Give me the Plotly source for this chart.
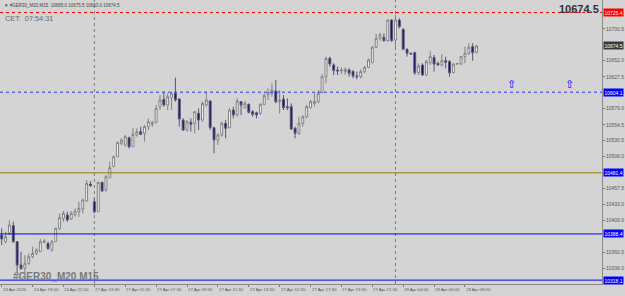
import plotly.graph_objects as go

# ---- data (GER30 M15 candles) ----
opens = [10386.7,10376.6,10389.2,10400.9,10376.6,10341.1,10336.0,10343.6,10353.7,10358.8,
         10361.4,10375.6,10374.0,10363.9,10376.6,10396.9,10412.1,10417.2,10411.1,10417.2,
         10422.2,10426.3,10438.5,10464.3,10437.4,10422.2,10466.9,10455.2,10474.0,10490.7,
         10505.9,10526.2,10523.7,10534.8,10521.1,10538.9,10544.0,10541.4,10551.6,10555.1,
         10558.2,10582.1,10593.2,10584.6,10595.8,10602.4,10593.7,10561.8,10546.6,10558.2,
         10556.7,10571.9,10561.8,10584.6,10590.7,10550.1,10531.3,10539.0,10556.7,10550.1,
         10577.0,10569.4,10589.7,10580.5,10585.6,10574.5,10572.9,10571.9,10585.6,10599.8,
         10602.4,10605.9,10589.7,10593.7,10582.1,10582.1,10549.1,10541.5,10556.7,10566.8,
         10580.5,10587.1,10589.7,10603.4,10627.7,10655.6,10645.5,10637.9,10636.4,10635.4,
         10637.9,10635.4,10628.8,10627.7,10635.4,10641.9,10649.0,10672.4,10686.1,10687.6,
         10682.5,10714.0,10683.5,10714.0,10699.8,10669.3,10663.3,10664.3,10633.8,10645.5,
         10630.3,10649.0,10656.7,10648.0,10645.5,10652.1,10650.6,10633.8,10647.0,10647.0,
         10658.2,10663.3,10673.4,10665.0]
highs = [10396.9,10391.8,10409.5,10407.0,10377.0,10361.4,10356.3,10358.8,10369.0,10366.4,
         10380.6,10380.6,10376.6,10379.1,10397.9,10419.7,10423.2,10422.2,10423.2,10427.3,
         10437.4,10442.5,10470.4,10468.9,10442.5,10467.9,10467.9,10478.0,10498.3,10507.5,
         10528.8,10533.8,10538.9,10536.4,10550.1,10549.0,10551.6,10554.1,10564.3,10560.2,
         10584.6,10599.8,10604.9,10602.4,10604.9,10626.2,10594.7,10564.3,10561.8,10564.3,
         10575.5,10579.5,10589.7,10604.9,10592.2,10551.6,10541.5,10559.2,10561.8,10579.5,
         10582.1,10594.7,10590.7,10590.7,10587.1,10577.0,10574.5,10587.1,10602.4,10610.0,
         10617.6,10622.7,10607.4,10599.8,10594.7,10587.1,10551.6,10566.8,10569.4,10584.6,
         10592.2,10602.4,10607.4,10631.8,10658.2,10658.2,10648.0,10642.9,10641.9,10641.9,
         10640.4,10637.9,10635.4,10638.9,10644.0,10655.6,10674.4,10692.7,10694.7,10693.7,
         10715.0,10715.0,10721.6,10716.5,10701.3,10670.9,10664.3,10665.8,10648.0,10648.0,
         10653.1,10667.3,10660.7,10650.6,10662.2,10658.2,10653.1,10648.0,10648.0,10659.2,
         10673.4,10678.5,10678.5,10675.5]
lows = [10371.5,10374.0,10386.7,10375.0,10328.4,10333.5,10323.3,10341.1,10351.2,10356.3,
        10361.4,10374.0,10363.9,10361.4,10376.6,10394.3,10407.0,10407.0,10409.5,10414.6,
        10414.6,10419.7,10437.4,10460.3,10419.7,10422.2,10452.7,10452.7,10473.0,10490.7,
        10505.9,10523.7,10521.1,10518.6,10521.1,10536.4,10538.9,10528.8,10546.5,10551.6,
        10556.7,10577.0,10582.1,10577.0,10577.0,10589.7,10551.6,10545.0,10544.0,10544.0,
        10541.5,10546.6,10559.2,10582.1,10546.6,10511.1,10523.7,10536.4,10533.9,10549.1,
        10564.3,10566.8,10569.4,10579.5,10571.9,10566.8,10564.3,10569.4,10584.6,10592.2,
        10597.3,10587.1,10571.9,10577.0,10577.0,10546.6,10533.9,10539.0,10551.6,10564.3,
        10579.5,10582.1,10587.1,10602.4,10617.6,10642.9,10630.3,10630.3,10631.8,10630.3,
        10627.7,10625.2,10623.7,10625.2,10632.8,10640.4,10648.0,10670.9,10682.5,10681.0,
        10681.0,10681.0,10670.9,10701.3,10668.3,10658.2,10660.7,10630.3,10630.3,10628.8,
        10628.8,10645.5,10635.4,10644.0,10642.9,10640.4,10627.7,10632.8,10646.0,10645.5,
        10648.0,10660.7,10652.0,10663.0]
closes = [10380.6,10384.2,10401.9,10376.6,10341.1,10336.0,10343.6,10353.7,10358.8,10363.9,
          10376.6,10377.6,10366.4,10376.6,10396.9,10413.1,10419.7,10409.5,10419.7,10423.2,
          10427.3,10440.0,10465.3,10461.8,10422.2,10466.9,10453.7,10475.5,10489.2,10505.9,
          10527.7,10531.3,10536.4,10521.1,10539.9,10544.0,10539.9,10551.6,10559.2,10558.2,
          10579.5,10592.2,10584.6,10597.3,10602.4,10592.2,10563.3,10546.6,10559.2,10555.2,
          10574.5,10561.8,10587.1,10592.2,10550.1,10531.3,10539.0,10556.7,10549.1,10577.0,
          10569.4,10590.7,10584.6,10587.1,10573.4,10570.4,10569.4,10585.6,10598.8,10603.9,
          10607.4,10589.7,10592.2,10580.5,10580.5,10548.1,10541.5,10556.7,10566.8,10582.1,
          10589.7,10589.7,10602.4,10627.7,10655.6,10647.0,10637.0,10636.4,10637.9,10638.9,
          10632.8,10628.8,10627.7,10635.4,10641.9,10653.1,10672.4,10686.1,10691.2,10682.5,
          10714.0,10682.5,10714.0,10703.8,10669.3,10663.3,10662.2,10633.8,10644.0,10630.3,
          10650.6,10658.2,10647.0,10645.5,10652.1,10649.6,10633.8,10647.0,10647.5,10658.2,
          10663.3,10672.4,10664.3,10674.5]
bars = list(range(len(opens)))

time_label_bars = [0, 8, 16, 24, 32, 40, 48, 56, 64, 72, 80, 88, 96, 104, 112, 120]
time_labels = ["24 Apr 2020", "24 Apr 19:00", "24 Apr 21:00", "27 Apr 03:30", "27 Apr 05:30",
               "27 Apr 07:30", "27 Apr 09:30", "27 Apr 11:30", "27 Apr 13:30", "27 Apr 15:30",
               "27 Apr 17:30", "27 Apr 19:30", "27 Apr 21:30", "28 Apr 04:00", "28 Apr 06:00",
               "28 Apr 08:00"]
price_ticks = [10700.5, 10652.0, 10627.5, 10579.0, 10554.5, 10530.5, 10506.0,
               10457.5, 10433.0, 10409.0, 10360.5, 10336.0, 10311.5]
separator_bars = [24, 102]
hlines = [(10725.4, "#ff0000", "dot"), (10604.1, "#3030ff", "dot"),
          (10481.4, "#8a8200", "solid"), (10388.4, "#0000ff", "solid"),
          (10318.1, "#0000ff", "solid")]
price_boxes = [(10725.4, "#ff0000"), (10674.5, "#3a3a3a"), (10604.1, "#0000ff"),
               (10481.4, "#0000ff"), (10388.4, "#0000ff"), (10318.1, "#0000ff")]
arrow_bars = [132, 147]
arrow_price = 10602.5
last_price = 10674.5

BG = "#d4d4d4"

fig = go.Figure()
fig.add_trace(go.Candlestick(
    x=bars, open=opens, high=highs, low=lows, close=closes,
    increasing=dict(line=dict(color="#808080", width=1), fillcolor="#ffffff"),
    decreasing=dict(line=dict(color="#55557a", width=1), fillcolor="#0c0c5c"),
    whiskerwidth=0, hoverinfo="skip", showlegend=False,
))

shapes = []
for b in separator_bars:
    shapes.append(dict(type="line", xref="x", yref="paper", x0=b, x1=b, y0=0, y1=1,
                       line=dict(color="#7a7a7a", width=1, dash="dot"), layer="below"))
for p, c, d in hlines:
    shapes.append(dict(type="line", xref="paper", yref="y", x0=0, x1=1, y0=p, y1=p,
                       line=dict(color=c, width=1, dash=d)))

ann = []
for b, t in zip(time_label_bars, time_labels):
    ann.append(dict(x=b, y=0, xref="x", yref="paper", text=t, showarrow=False,
                    xanchor="left", yanchor="top", xshift=-1, yshift=-1,
                    font=dict(size=4.3, color="#555555", family="Arial")))
for p, c in price_boxes:
    ann.append(dict(x=1, y=p, xref="paper", yref="y", text=f"{p:.1f}", showarrow=False,
                    xanchor="left", yanchor="middle", xshift=1,
                    bgcolor=c, borderpad=0.5,
                    font=dict(size=5, color="#ffffff", family="Arial")))
for b in arrow_bars:
    ann.append(dict(x=b, y=arrow_price, xref="x", yref="y", text="⇧", showarrow=False,
                    xanchor="center", yanchor="bottom",
                    font=dict(size=11, color="#0000ff", family="DejaVu Sans")))
ann.append(dict(x=0, y=1, xref="paper", yref="paper",
                text="▼ #GER30_M20,M15  10665.0 10675.5 10663.0 10674.5", showarrow=False,
                xanchor="left", yanchor="top", xshift=2, yshift=-1,
                font=dict(size=4.5, color="#444444", family="Arial")))
ann.append(dict(x=0, y=1, xref="paper", yref="paper", text="CET:  07:54:31", showarrow=False,
                xanchor="left", yanchor="top", xshift=3, yshift=-12,
                font=dict(size=7.3, color="#6a6a6a", family="Arial")))
ann.append(dict(x=1, y=1, xref="paper", yref="paper", text=f"<b>{last_price:.1f}</b>",
                showarrow=False, xanchor="right", yanchor="top", xshift=-1, yshift=-1,
                font=dict(size=11, color="#333333", family="Arial")))
ann.append(dict(x=0, y=0, xref="paper", yref="paper", text="<b>#GER30_M20 M15</b>",
                showarrow=False, xanchor="left", yanchor="bottom", xshift=11, yshift=0,
                font=dict(size=10, color="#7a7a7a", family="Arial")))

fig.update_layout(
    width=625, height=296, margin=dict(l=0, r=23, t=0, b=12),
    paper_bgcolor=BG, plot_bgcolor=BG,
    shapes=shapes, annotations=ann, showlegend=False,
    xaxis=dict(range=[-0.44, 155.5], showgrid=False, zeroline=False,
               rangeslider=dict(visible=False), showline=True, linecolor="#8a8a8a",
               linewidth=1, mirror=False, tickvals=time_label_bars, ticks="outside",
               ticklen=2, tickcolor="#777777", showticklabels=False, fixedrange=True),
    yaxis=dict(range=[10312.2, 10744.4], side="right", showgrid=False, zeroline=False,
               showline=True, linecolor="#8a8a8a", linewidth=1, mirror=True,
               tickvals=price_ticks, ticktext=[f"{v:.1f}" for v in price_ticks],
               ticks="outside", ticklen=2, tickcolor="#777777",
               tickfont=dict(size=5, color="#555555", family="Arial"), fixedrange=True),
)

fig.write_html("out.html")
